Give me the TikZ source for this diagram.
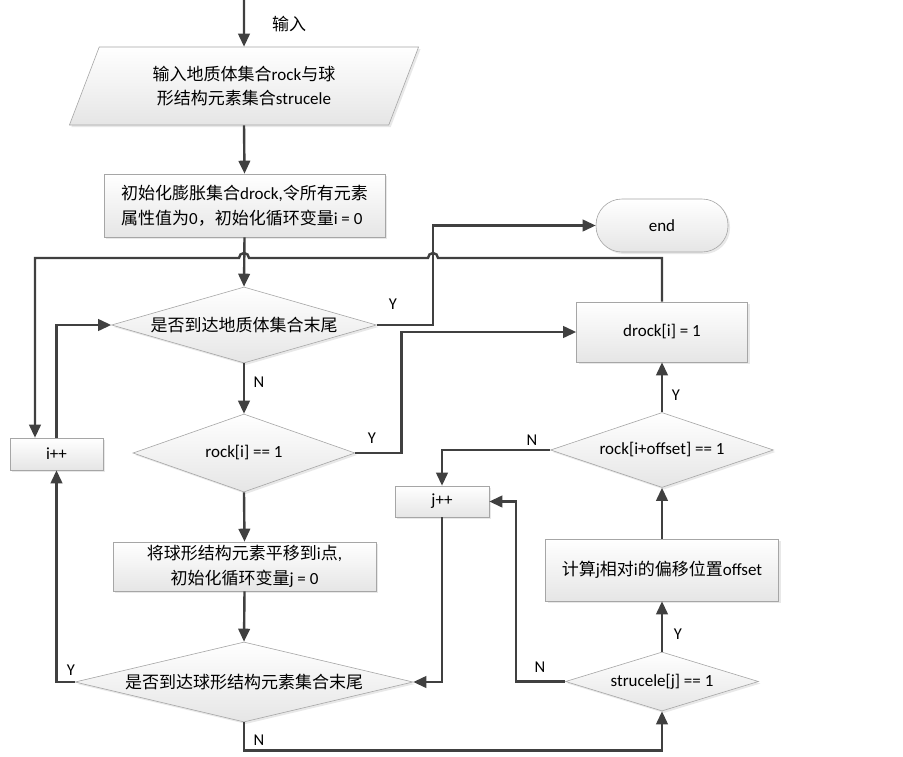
\documentclass[tikz,border=0pt]{standalone}
\usepackage{fontspec}
\setmainfont{Carlito}
\newfontfamily\cjk{Noto Sans CJK SC}
\newcommand{\zh}[1]{{\cjk #1}}
\usetikzlibrary{shapes.geometric,shadows,arrows.meta}
\definecolor{flowline}{HTML}{404040}
\definecolor{boxline}{HTML}{A6A6A6}
\tikzset{
	base/.style = {
		draw         = boxline,
		line width   = 0.6pt,
		top color    = white,
		bottom color = black!10,
		text         = black,
		align        = center,
		inner sep    = 0pt,
		font         = \fontsize{17}{24.5}\selectfont,
		drop shadow  = {opacity = 0.18, shadow xshift = 2pt, shadow yshift = -2pt}
	},
	process/.style  = {base, rectangle},
	decision/.style = {base, diamond},
	io/.style       = {base, trapezium, trapezium left angle = 65,
		trapezium right angle = 115, trapezium stretches = true},
	terminal/.style = {base, rectangle, rounded corners = 26pt},
	flow/.style     = {draw = flowline, line width = 2.4pt,
		-{Triangle[length = 13pt, width = 11.5pt]}},
	tag/.style      = {font = \fontsize{16.5}{18}\selectfont, text = black}
}

\begin{document}
\begin{tikzpicture}[x = 1pt, y = -1pt]
	\path[fill = white, use as bounding box] (0,0) rectangle (903,756);
	% main column
	\node(inp) [io, minimum width = 350pt, minimum height = 78pt] at (244,86)
	{\zh{输入地质体集合}rock\zh{与球}\\\zh{形结构元素集合}strucele};
	\node(init) [process, align = left, minimum width = 281pt, minimum height = 63pt] at (244.5,205.5)
	{\zh{初始化膨胀集合}drock,\zh{令所有元素}\\\zh{属性值为}0\zh{，初始化循环变量}i = 0};
	\node(d1) [decision, aspect = 3.5, minimum width = 265pt, minimum height = 76pt] at (244,325)
	{\zh{是否到达地质体集合末尾}};
	\node(d2) [decision, aspect = 2.85, minimum width = 222pt, minimum height = 78pt] at (244,453)
	{rock[i] == 1};
	\node(move) [process, minimum width = 263pt, minimum height = 49pt] at (244.5,566.5)
	{\zh{将球形结构元素平移到}i\zh{点},\\\zh{初始化循环变量}j = 0};
	\node(d4) [decision, aspect = 4.2, minimum width = 338pt, minimum height = 80pt] at (244,682)
	{\zh{是否到达球形结构元素集合末尾}};
	\node(ipp) [process, minimum width = 93pt, minimum height = 32pt] at (56.5,454) {i++};
	% right column
	\node(end) [terminal, minimum width = 132pt, minimum height = 53pt] at (662,225.5) {end};
	\node(drock) [process, minimum width = 171pt, minimum height = 60pt] at (662,332) {drock[i] = 1};
	\node(d3) [decision, aspect = 2.97, minimum width = 223pt, minimum height = 75pt] at (662,450)
	{rock[i+offset] == 1};
	\node(offset) [process, minimum width = 233pt, minimum height = 62pt] at (662,570)
	{\zh{计算}j\zh{相对}i\zh{的偏移位置}offset};
	\node(d5) [decision, aspect = 3.27, minimum width = 193pt, minimum height = 59pt] at (662,681.5)
	{strucele[j] == 1};
	\node(jpp) [process, minimum width = 94pt, minimum height = 31pt] at (442,501.5) {j++};
	% helper coordinates
	\coordinate(start) at (244,0);
	\coordinate(hopline) at (0,258);
	\coordinate(loopx) at (35,0);
	% connectors
	\draw[flow] (start) -- (inp.north);
	\draw[flow] (inp.south) -- (init.north);
	\draw[flow] (init.south) -- (d1.north);
	\draw[flow] (d1.east) -- ++(56,0) |- (end.west);
	\draw[flow] (d1.south) -- (d2.north);
	\draw[flow] (d2.east) -- ++(46,0) |- (drock.west);
	\draw[flow] (drock.north) -- (drock.north |- hopline) -- (438,258)
	arc[start angle = 0, end angle = 180, radius = 5pt] -- (249,258)
	arc[start angle = 0, end angle = 180, radius = 5pt] -- (loopx |- hopline) -- (loopx |- ipp.north);
	\draw[flow] (ipp.north) |- (d1.west);
	\draw[flow] (d2.south) -- (move.north);
	\draw[flow] (move.south) -- (d4.north);
	\draw[flow] (d4.west) -| (ipp.south);
	\draw[flow] (d4.south) -- ++(0,28) -| (d5.south);
	\draw[flow] (d5.north) -- (offset.south);
	\draw[flow] (offset.north) -- (d3.south);
	\draw[flow] (d3.north) -- (drock.south);
	\draw[flow] (d3.west) -| (jpp.north);
	\draw[flow] (d5.west) -- ++(-49,0) |- (jpp.east);
	\draw[flow] (jpp.south) |- (d4.east);
	% labels
	\node(intag) [tag, font = \fontsize{17}{18}\selectfont] at (289,24) {\zh{输入}};
	\node(y1) [tag] at (393,304) {Y};
	\node(n1) [tag] at (259,382) {N};
	\node(y2) [tag] at (372,438) {Y};
	\node(y3) [tag] at (676,395) {Y};
	\node(n3) [tag] at (532,440) {N};
	\node(y4) [tag] at (71,670) {Y};
	\node(n4) [tag] at (259,740) {N};
	\node(y5) [tag] at (678,634) {Y};
	\node(n5) [tag] at (540,667) {N};
\end{tikzpicture}
\end{document}
